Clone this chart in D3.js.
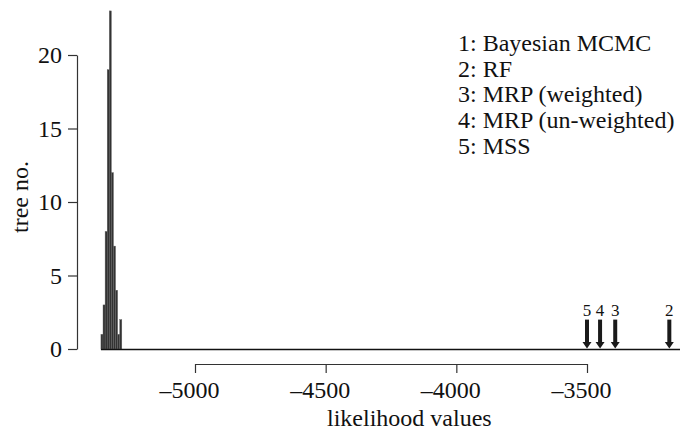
<!DOCTYPE html>
<html>
<head>
<meta charset="utf-8">
<script src="https://cdn.jsdelivr.net/npm/d3@7"></script>
<style>
body { margin: 0; background: #fff; }
svg { font-family: "Liberation Serif", "Times New Roman", Times, serif; }
</style>
</head>
<body>
<div id="vis"></div>
<script>
const FRAME_WIDTH = 680;
const FRAME_HEIGHT = 430;

// Bayesian MCMC trees: histogram bins (start of bin) and tree counts
const BIN_STARTS = [-5360, -5352, -5344, -5336, -5328, -5320, -5312, -5304, -5296, -5288];
const BIN_WIDTH = 8;
const BIN_COUNTS = [1, 3, 8, 19, 23, 12, 7, 4, 1, 2];

// single trees of the other methods, marked with arrows
const METHOD_IDS = ["2", "3", "4", "5"];
const METHOD_VALUES = [-3185, -3392, -3450, -3500];

const LEGEND_LABELS = ["1: Bayesian MCMC", "2: RF", "3: MRP (weighted)",
                       "4: MRP (un-weighted)", "5: MSS"];

const X_TICKS = [-5000, -4500, -4000, -3500];
const Y_TICKS = [0, 5, 10, 15, 20];

const TEXT_COLOR = "#111";

const FRAME = d3.select("#vis")
                .append("svg")
                    .attr("width", FRAME_WIDTH)
                    .attr("height", FRAME_HEIGHT);

const X_SCALE = d3.scaleLinear()
                    .domain([-5000, -3500])
                    .range([195, 587]);

const Y_SCALE = d3.scaleLinear()
                    .domain([0, 20])
                    .range([349, 55]);

// histogram bars
const bins = BIN_STARTS.map((s, i) => ({start: s, count: BIN_COUNTS[i]}));

FRAME.selectAll(".bar")
    .data(bins)
    .enter()
    .append("rect")
        .attr("class", "bar")
        .attr("x", (d) => X_SCALE(d.start))
        .attr("width", (d) => X_SCALE(d.start + BIN_WIDTH) - X_SCALE(d.start))
        .attr("y", (d) => Y_SCALE(d.count))
        .attr("height", (d) => Y_SCALE(0) - Y_SCALE(d.count))
        .attr("fill", "#333")
        .attr("stroke", "#666")
        .attr("stroke-width", 0.4);

// baseline under the histogram
FRAME.append("line")
    .attr("x1", X_SCALE(BIN_STARTS[0]))
    .attr("x2", FRAME_WIDTH)
    .attr("y1", Y_SCALE(0) + 0.5)
    .attr("y2", Y_SCALE(0) + 0.5)
    .attr("stroke", "#111")
    .attr("stroke-width", 1.5);

// arrows for the other methods
const methods = METHOD_IDS.map((id, i) => ({id: id, value: METHOD_VALUES[i]}));
const ARROW_TOP = Y_SCALE(2);
const ARROW_BOTTOM = Y_SCALE(0);

const arrows = FRAME.selectAll(".arrow")
    .data(methods)
    .enter()
    .append("g")
        .attr("class", "arrow")
        .attr("transform", (d) => "translate(" + X_SCALE(d.value) + ",0)");

arrows.append("rect")
    .attr("x", -2)
    .attr("width", 4)
    .attr("y", ARROW_TOP)
    .attr("height", ARROW_BOTTOM - ARROW_TOP - 6)
    .attr("fill", "#1a1a1a");

arrows.append("path")
    .attr("d", "M-4.5," + (ARROW_BOTTOM - 7) + " L4.5," + (ARROW_BOTTOM - 7) +
               " L0," + (ARROW_BOTTOM - 0.5) + " Z")
    .attr("fill", "#1a1a1a");

arrows.append("text")
    .attr("y", ARROW_TOP - 4)
    .attr("text-anchor", "middle")
    .attr("font-size", "17px")
    .attr("fill", TEXT_COLOR)
    .text((d) => d.id);

// x axis, offset below the plot
const xAxis = FRAME.append("g")
    .attr("transform", "translate(0,364)")
    .call(d3.axisBottom(X_SCALE)
            .tickValues(X_TICKS)
            .tickSize(9)
            .tickSizeOuter(0)
            .tickPadding(8)
            .tickFormat((d) => "\u2013" + Math.abs(d)));

xAxis.selectAll("text")
    .attr("font-size", "24px")
    .attr("font-family", "Liberation Serif")
    .attr("fill", TEXT_COLOR)
    .attr("text-anchor", "end")
    .attr("dx", "1em");
xAxis.selectAll("path, line").attr("stroke", "#333").attr("stroke-width", 1.2);

FRAME.append("text")
    .attr("x", X_SCALE(-4000) - 47)
    .attr("y", 426)
    .attr("text-anchor", "middle")
    .attr("font-size", "24px")
    .attr("fill", TEXT_COLOR)
    .text("likelihood values");

// y axis
const yAxis = FRAME.append("g")
    .attr("transform", "translate(77,0)")
    .call(d3.axisLeft(Y_SCALE)
            .tickValues(Y_TICKS)
            .tickSize(9)
            .tickSizeOuter(0)
            .tickPadding(6));

yAxis.selectAll("text")
    .attr("font-size", "24px")
    .attr("font-family", "Liberation Serif")
    .attr("fill", TEXT_COLOR);
yAxis.selectAll("path, line").attr("stroke", "#333").attr("stroke-width", 1.2);

FRAME.append("text")
    .attr("transform", "translate(28,197) rotate(-90)")
    .attr("text-anchor", "middle")
    .attr("font-size", "24px")
    .attr("fill", TEXT_COLOR)
    .text("tree no.");

// legend
FRAME.selectAll(".legend")
    .data(LEGEND_LABELS)
    .enter()
    .append("text")
        .attr("class", "legend")
        .attr("x", 458)
        .attr("y", (d, i) => 51 + i * 25.7)
        .attr("font-size", "24px")
        .attr("fill", TEXT_COLOR)
        .text((d) => d);
</script>
</body>
</html>
